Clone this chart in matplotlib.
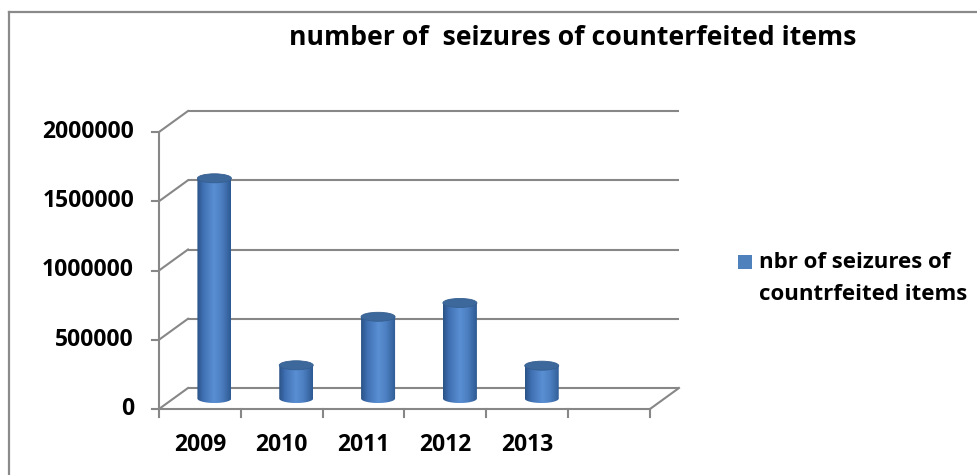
import numpy as np
import matplotlib
matplotlib.use("Agg")
import matplotlib.pyplot as plt
from matplotlib.patches import Ellipse, PathPatch, Rectangle
from matplotlib.path import Path
from matplotlib.lines import Line2D
from matplotlib.colors import LinearSegmentedColormap

# ---------------- data ----------------
categories = ["2009", "2010", "2011", "2012", "2013"]
values = [1590000, 240000, 590000, 690000, 237000]
n_slots = 6  # Excel left one empty category slot
y_ticks = [0, 500000, 1000000, 1500000, 2000000]
y_tick_labels = ["0", "500000", "1000000", "1500000", "2000000"]
title = "number of  seizures of counterfeited items"
legend_label = "nbr of seizures of\ncountrfeited items"

# ---------------- layout (pixels) ----------------
W, H, DPI = 978, 475, 100
X0_PX = 159.0            # front-left axis x
Y0_PX = 409.0            # front floor y (from top)
PX_PER_CAT = 81.83
PX_PER_VAL = 69.25 / 500000
DEPTH_DX_PX, DEPTH_DY_PX = 29.0, 21.0

plt.rcParams['font.family'] = ['Open Sans', 'DejaVu Sans']
FS = 16.5
FS_LEG = 16
GRID = '#878787'
LW = 1.5

fig = plt.figure(figsize=(W / DPI, H / DPI), dpi=DPI)
ax = fig.add_axes([0, 0, 1, 1])
ax.axis('off')

DX = DEPTH_DX_PX / PX_PER_CAT
DY = DEPTH_DY_PX / PX_PER_VAL
px_x = 1 / PX_PER_CAT
px_y = 1 / PX_PER_VAL

# back wall + side wall gridlines
for v in y_ticks:
    ax.plot([DX, n_slots + DX], [v + DY, v + DY], color=GRID, lw=LW, solid_capstyle='butt')
    ax.plot([0, DX], [v, v + DY], color=GRID, lw=LW)
    ax.plot([-7 * px_x, 0], [v, v], color=GRID, lw=LW)
# front axis
ax.plot([0, 0], [0, y_ticks[-1]], color=GRID, lw=LW)
# floor
ax.plot([0, n_slots], [0, 0], color=GRID, lw=LW)
ax.plot([n_slots, n_slots + DX], [0, DY], color=GRID, lw=LW)
for i in range(n_slots + 1):
    ax.plot([i, i], [0, -8 * px_y], color=GRID, lw=LW)

# tick labels
for v, lab in zip(y_ticks, y_tick_labels):
    ax.annotate(lab, xy=(0, v), xytext=(-25, 0), textcoords='offset pixels',
                ha='right', va='center', fontsize=FS, fontweight='bold')
for i, lab in enumerate(categories):
    ax.annotate(lab, xy=(i + 0.5, 0), xytext=(0, -36), textcoords='offset pixels',
                ha='center', va='center', fontsize=FS, fontweight='bold')

# cylinders
cmap = LinearSegmentedColormap.from_list(
    'cyl', [(0.0, '#2a5286'), (0.18, '#3f70b2'), (0.5, '#5a8fd3'),
            (0.72, '#4d80c2'), (1.0, '#2e5a92')])
grad = np.linspace(0, 1, 256).reshape(1, -1)
bw = 34 * px_x
eh = 9 * px_y  # ellipse full height
t = np.linspace(0, np.pi, 60)
for i, v in enumerate(values):
    xc = i + 0.5 + DX / 2
    yb = DY / 2
    yt = yb + v
    xs = [xc - bw / 2, xc - bw / 2, xc + bw / 2, xc + bw / 2]
    ys = [yb, yt, yt, yb]
    ex = xc + (bw / 2) * np.cos(t)
    ey = yb - (eh / 2) * np.sin(t)
    verts = list(zip(xs, ys)) + list(zip(ex, ey)) + [(xs[0], ys[0])]
    codes = [Path.MOVETO] + [Path.LINETO] * (len(verts) - 2) + [Path.CLOSEPOLY]
    body = PathPatch(Path(verts, codes), facecolor='none', edgecolor='none')
    ax.add_patch(body)
    im = ax.imshow(grad, cmap=cmap, aspect='auto', interpolation='bilinear',
                   extent=[xc - bw / 2, xc + bw / 2, yb - eh, yt], zorder=2)
    im.set_clip_path(body)
    top = Ellipse((xc, yt), bw, eh, facecolor='#3c689c', edgecolor='#365f90',
                  lw=0.6, zorder=3)
    ax.add_patch(top)

ax.set_xlim(-X0_PX / PX_PER_CAT, (W - X0_PX) / PX_PER_CAT)
y_bottom_px = H - Y0_PX
ax.set_ylim(-y_bottom_px / PX_PER_VAL, (H - y_bottom_px) / PX_PER_VAL)

# title
fig.text(573 / W, 1 - 38 / H, title, ha='center', va='center',
         fontsize=19.2, fontweight='bold')

# legend (manual)
fig.add_artist(Rectangle((738 / W, 1 - 269 / H), 14 / W, 14 / H,
                         transform=fig.transFigure, facecolor='#4f81bd', edgecolor='none'))
l1, l2 = legend_label.split("\n")
fig.text(759 / W, 1 - 262 / H, l1, ha='left', va='center', fontsize=FS_LEG, fontweight='bold')
fig.text(759 / W, 1 - 295 / H, l2, ha='left', va='center', fontsize=FS_LEG, fontweight='bold')

# outer chart border
bc = '#8a8a8a'
fig.add_artist(Line2D([8.7 / W, 8.7 / W], [0, 1 - 11.7 / H], transform=fig.transFigure, color=bc, lw=1.6))
fig.add_artist(Line2D([8.7 / W, 1], [1 - 11.7 / H, 1 - 11.7 / H], transform=fig.transFigure, color=bc, lw=1.6))

fig.savefig("out.png", dpi=DPI)
